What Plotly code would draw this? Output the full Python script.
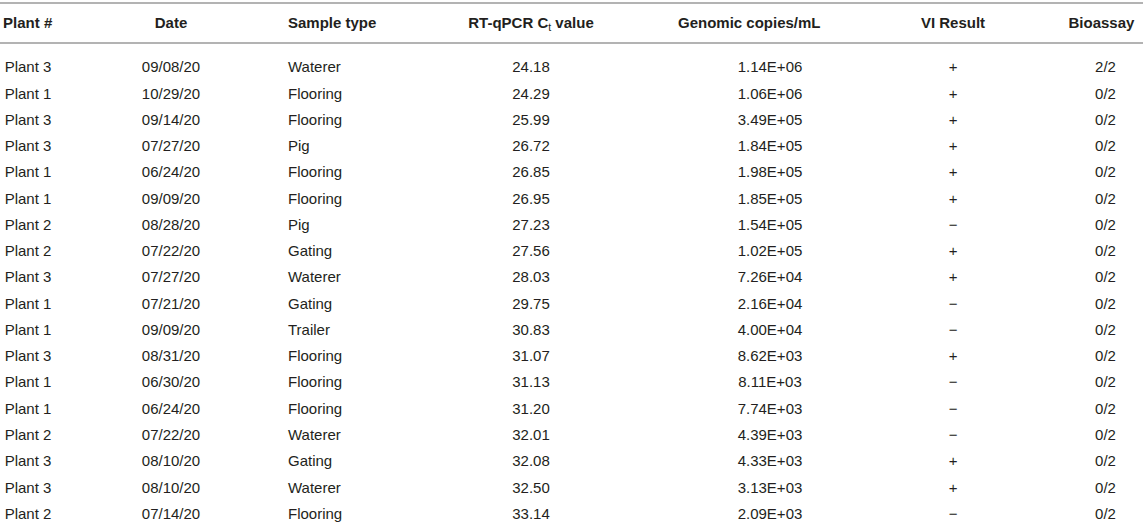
import plotly.graph_objects as go

headers = [
    "<b>Plant #</b>",
    "",
    "<b>Date</b>",
    "<b>Sample type</b>",
    "<b>RT-qPCR C</b><sub>t</sub><b> value</b>",
    "<b>Genomic copies/mL</b>",
    "<b>VI Result</b>",
    "",
    "<b>Bioassay</b>",
]

plants = ["Plant 3", "Plant 1", "Plant 3", "Plant 3", "Plant 1", "Plant 1", "Plant 2", "Plant 2", "Plant 3",
          "Plant 1", "Plant 1", "Plant 3", "Plant 1", "Plant 1", "Plant 2", "Plant 3", "Plant 3", "Plant 2"]
dates = ["09/08/20", "10/29/20", "09/14/20", "07/27/20", "06/24/20", "09/09/20", "08/28/20", "07/22/20", "07/27/20",
         "07/21/20", "09/09/20", "08/31/20", "06/30/20", "06/24/20", "07/22/20", "08/10/20", "08/10/20", "07/14/20"]
sample_types = ["Waterer", "Flooring", "Flooring", "Pig", "Flooring", "Flooring", "Pig", "Gating", "Waterer",
                "Gating", "Trailer", "Flooring", "Flooring", "Flooring", "Waterer", "Gating", "Waterer", "Flooring"]
ct_values = ["24.18", "24.29", "25.99", "26.72", "26.85", "26.95", "27.23", "27.56", "28.03",
             "29.75", "30.83", "31.07", "31.13", "31.20", "32.01", "32.08", "32.50", "33.14"]
copies = ["1.14E+06", "1.06E+06", "3.49E+05", "1.84E+05", "1.98E+05", "1.85E+05", "1.54E+05", "1.02E+05", "7.26E+04",
          "2.16E+04", "4.00E+04", "8.62E+03", "8.11E+03", "7.74E+03", "4.39E+03", "4.33E+03", "3.13E+03", "2.09E+03"]
vi_results = ["+", "+", "+", "+", "+", "+", "\u2212", "+", "+",
              "\u2212", "\u2212", "+", "\u2212", "\u2212", "\u2212", "+", "+", "\u2212"]
bioassay = ["2/2"] + ["0/2"] * 17
spacer = [""] * len(plants)

W, H = 1143, 526
TOP = 6
col_widths = [56, 6, 218, 112, 278, 200, 166, 32, 75]
text_color = "#231f20"
line_color = "#b3b3b3"
font_family = "Liberation Sans, Arial, Helvetica, sans-serif"


def nowrap(items):
    # keep each entry on a single line inside its cell
    return [s.replace(" ", "\u00a0") for s in items]


fig = go.Figure(
    go.Table(
        columnwidth=col_widths,
        header=dict(
            values=nowrap(headers),
            align=["center", "center", "center", "left", "center", "left", "center", "center", "right"],
            font=dict(family=font_family, size=15, color=text_color),
            fill_color="white",
            line_color="rgba(0,0,0,0)",
            height=47,
        ),
        cells=dict(
            values=[nowrap(plants), spacer, dates, sample_types, ct_values, copies, vi_results, spacer, bioassay],
            align=["center", "center", "center", "left", "center", "center", "center", "center", "center"],
            font=dict(family=font_family, size=15, color=text_color),
            fill_color="white",
            line_color="rgba(0,0,0,0)",
            height=26.27,
        ),
        domain=dict(x=[0, 1], y=[0, 1]),
    )
)

# horizontal rules above and below the header
for y in [3, 43]:
    yp = 1 - (y - TOP) / (H - TOP)
    fig.add_shape(type="line", xref="paper", yref="paper", x0=0, x1=1, y0=yp, y1=yp,
                  line=dict(color=line_color, width=2))

fig.update_layout(
    width=W,
    height=H,
    margin=dict(l=0, r=0, t=TOP, b=0),
    paper_bgcolor="white",
    plot_bgcolor="white",
)

fig.write_html(
    "out.html",
    config={"displayModeBar": False},
    post_script="document.body.style.margin = '0';",
)
